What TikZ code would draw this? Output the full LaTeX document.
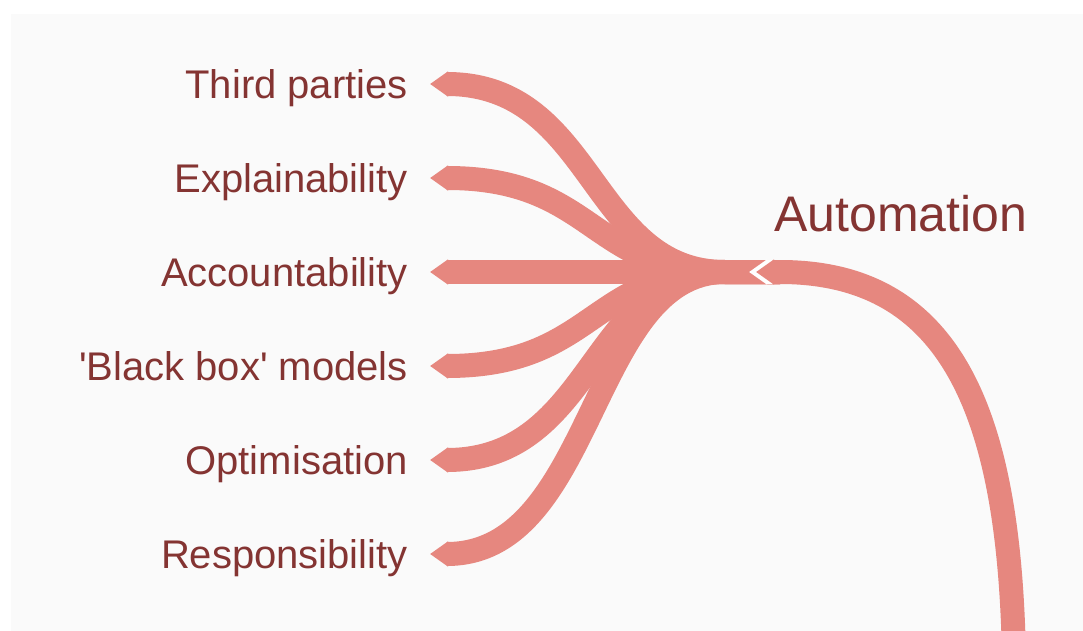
\documentclass[tikz,border=0pt]{standalone}
\usepackage{fontspec}
\setmainfont{Liberation Sans}
\usepackage{tikz}
\usetikzlibrary{arrows.meta}
\definecolor{bandred}{HTML}{E6877F}
\definecolor{labelred}{HTML}{843432}
\definecolor{panelgray}{HTML}{FAFAFA}

\begin{document}
\begin{tikzpicture}[x=1pt,y=-1pt,
    band/.style={draw=bandred,line width=24pt,{Triangle[length=18pt,width=24pt]}-},
    topic/.style={anchor=base east,text=labelred,inner sep=0pt,font=\fontsize{40}{48}\selectfont},
    root/.style={anchor=base west,text=labelred,inner sep=0pt,font=\fontsize{50}{58}\selectfont}]
          \useasboundingbox (0,0) rectangle (1083,631);
          \clip (0,0) rectangle (1083,631);
          \fill[white] (0,0) rectangle (1083,631);
          \fill[panelgray] (11,14) rectangle (1083,631);
          \node[topic] (third) at (408,98.5) {Third parties};
          \node[topic] (explain) at (408,192.5) {Explainability};
          \node[topic] (account) at (408,286.5) {Accountability};
          \node[topic] (blackbox) at (408,380.5) {\textquotesingle Black box\textquotesingle{} models};
          \node[topic] (optim) at (408,474.5) {Optimisation};
          \node[topic] (respons) at (408,568.5) {Responsibility};
          \node[root] (automation) at (774,231) {Automation};
          \coordinate (third tip) at (430,84);
          \coordinate (explain tip) at (430,178);
          \coordinate (account tip) at (430,272);
          \coordinate (blackbox tip) at (430,366);
          \coordinate (optim tip) at (430,460);
          \coordinate (respons tip) at (430,554);
          \coordinate (hub) at (725,272);
          \coordinate (hub end) at (780,272);
          \coordinate (cut tip) at (749,272);
          \coordinate (root tip) at (756,272);
          \coordinate (root end) at (1014,660);
          \draw[band] (third tip) .. controls (595,84) and (590,272) .. (hub) -- (hub end);
          \draw[band] (explain tip) .. controls (595,178) and (590,272) .. (hub) -- (hub end);
          \draw[band] (account tip) -- (hub end);
          \draw[band] (blackbox tip) .. controls (595,366) and (590,272) .. (hub) -- (hub end);
          \draw[band] (optim tip) .. controls (595,460) and (590,272) .. (hub) -- (hub end);
          \draw[band] (respons tip) .. controls (595,554) and (590,272) .. (hub) -- (hub end);
          \draw[band,draw=white] (cut tip) -- (hub end);
          \draw[band] (root tip) -- (hub end) .. controls (950,272) and (1010,410) .. (root end);
        \end{tikzpicture}
\end{document}
